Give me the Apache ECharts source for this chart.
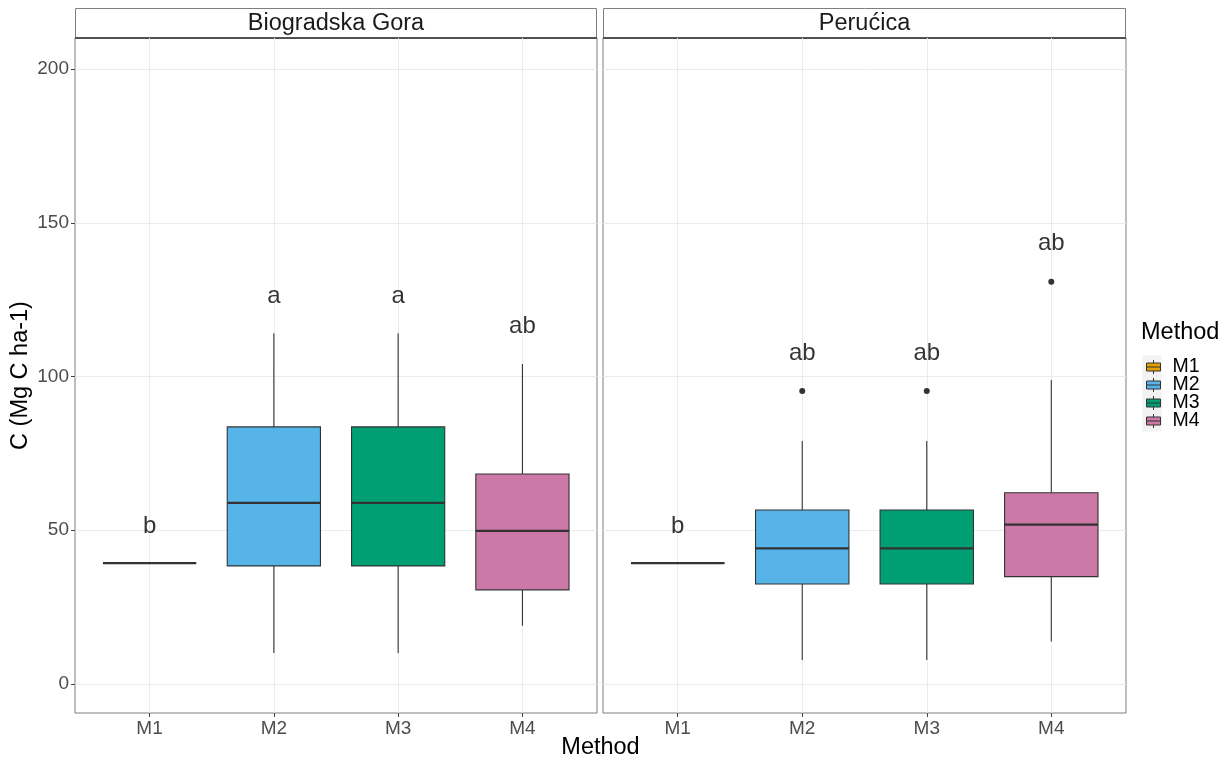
<!DOCTYPE html>
<html><head><meta charset="utf-8">
<script src="https://cdn.jsdelivr.net/npm/echarts@6/dist/echarts.min.js"></script>
<style>html,body{margin:0;padding:0;background:#fff}#c{width:1232px;height:765px}</style>
</head><body><div id="c"></div>
<script>
const methods = ['M1', 'M2', 'M3', 'M4'];
const panels = ['Biogradska Gora', 'Perućica'];
const colors = ['#E69F00', '#56B4E9', '#009E73', '#CC79A7'];
const yTicks = [0, 50, 100, 150, 200];
// [lower whisker, Q1, median, Q3, upper whisker]
const bgStats = [
  [39.3, 39.3, 39.3, 39.3, 39.3],
  [10.1, 38.4, 58.9, 83.6, 114.1],
  [10.1, 38.4, 58.9, 83.6, 114.1],
  [18.9, 30.6, 49.8, 68.3, 104.1]
];
const peStats = [
  [39.3, 39.3, 39.3, 39.3, 39.3],
  [7.8, 32.5, 44.1, 56.6, 79.0],
  [7.8, 32.5, 44.1, 56.6, 79.0],
  [13.8, 34.9, 51.8, 62.2, 98.9]
];
const bgOutliers = [];
const peOutliers = [[2, 95.3], [3, 95.3], [4, 130.8]];
const bgLetters = ['b', 'a', 'a', 'ab'];
const bgLetterY = [51.4, 126.2, 126.2, 116.4];
const peLetters = ['b', 'ab', 'ab', 'ab'];
const peLetterY = [51.4, 107.6, 107.6, 143.4];

const chart = echarts.init(document.getElementById('c'));
const FONT = 'Liberation Sans, Arial, sans-serif';

function renderBox(params, api) {
  const x = api.value(0);
  const lo = api.value(1), q1 = api.value(2), md = api.value(3), q3 = api.value(4), hi = api.value(5);
  const hw = 0.375;
  const tl = api.coord([x - hw, q3]);
  const br = api.coord([x + hw, q1]);
  const mL = api.coord([x - hw, md]);
  const mR = api.coord([x + hw, md]);
  const pHi = api.coord([x, hi]);
  const pQ3 = api.coord([x, q3]);
  const pQ1 = api.coord([x, q1]);
  const pLo = api.coord([x, lo]);
  const children = [
    {type: 'line', shape: {x1: pQ3[0], y1: pQ3[1], x2: pHi[0], y2: pHi[1]}, style: {stroke: '#333', lineWidth: 1.1}},
    {type: 'line', shape: {x1: pQ1[0], y1: pQ1[1], x2: pLo[0], y2: pLo[1]}, style: {stroke: '#333', lineWidth: 1.1}},
    {type: 'rect', shape: {x: tl[0], y: tl[1], width: br[0] - tl[0], height: br[1] - tl[1]},
      style: {fill: api.visual('color'), stroke: '#333', lineWidth: 1.1}},
    {type: 'line', shape: {x1: mL[0], y1: mL[1], x2: mR[0], y2: mR[1]}, style: {stroke: '#333', lineWidth: 2.3}}
  ];
  return {type: 'group', children: children};
}

const grids = [
  {left: 75, top: 38, width: 522, height: 675},
  {left: 603, top: 38, width: 523, height: 675}
].map(g => Object.assign(g, {show: true, borderColor: '#7f7f7f', borderWidth: 1, backgroundColor: 'transparent', containLabel: false}));

const xAxes = [0, 1].map(i => ({
  type: 'value', gridIndex: i, min: 0.4, max: 4.6,
  axisLine: {show: false, onZero: false},
  axisTick: {show: true, length: 4, lineStyle: {color: '#444'}, customValues: [1, 2, 3, 4]},
  axisLabel: {show: true, customValues: [1, 2, 3, 4], formatter: v => methods[Math.round(v) - 1],
    color: '#4d4d4d', fontSize: 19, fontFamily: FONT, margin: 6},
  splitLine: {show: true, lineStyle: {color: '#ebebeb', width: 1}}
}));

const yAxes = [0, 1].map(i => ({
  type: 'value', gridIndex: i, min: -9.45, max: 210.1,
  axisLine: {show: false, onZero: false},
  axisTick: {show: i === 0, length: 4, lineStyle: {color: '#444'}, customValues: yTicks},
  axisLabel: {show: i === 0, customValues: yTicks, color: '#4d4d4d', fontSize: 19, fontFamily: FONT, margin: 6},
  splitLine: {show: true, lineStyle: {color: '#ebebeb', width: 1}},
  name: i === 0 ? 'C (Mg C ha-1)' : '',
  nameLocation: 'middle', nameRotate: 90, nameGap: 42,
  nameTextStyle: {color: '#000', fontSize: 23.5, fontFamily: FONT}
}));

const series = [];
const statsByPanel = [bgStats, peStats];
const outByPanel = [bgOutliers, peOutliers];
const lettersByPanel = [bgLetters, peLetters];
const letterYByPanel = [bgLetterY, peLetterY];
for (let p = 0; p < 2; p++) {
  methods.forEach((m, i) => {
    series.push({
      type: 'custom', name: m, xAxisIndex: p, yAxisIndex: p,
      itemStyle: {color: colors[i], borderColor: '#333', borderWidth: 1},
      renderItem: renderBox,
      encode: {x: 0, y: [1, 2, 3, 4, 5]},
      data: [[i + 1].concat(statsByPanel[p][i])],
      silent: true, z: 2
    });
  });
  series.push({
    type: 'scatter', xAxisIndex: p, yAxisIndex: p, symbol: 'circle', symbolSize: 6,
    itemStyle: {color: '#333', opacity: 1}, data: outByPanel[p], silent: true, z: 3
  });
  series.push({
    type: 'scatter', xAxisIndex: p, yAxisIndex: p, symbolSize: 0,
    data: methods.map((m, i) => [i + 1, letterYByPanel[p][i], lettersByPanel[p][i]]),
    label: {show: true, position: 'inside', formatter: d => d.value[2], color: '#000', fontSize: 24, fontFamily: FONT},
    silent: true, z: 4
  });
}

const boxIcon = 'path://M0,3 L14,3 L14,11 L0,11 Z M0,7 L14,7 M7,0 L7,3 M7,11 L7,14';

const option = {
  animation: false,
  backgroundColor: '#fff',
  grid: grids,
  xAxis: xAxes,
  yAxis: yAxes,
  series: series,
  legend: {
    orient: 'vertical', left: 1146, top: 357, selectedMode: false, padding: 0,
    data: methods, icon: boxIcon, itemWidth: 14, itemHeight: 14, itemGap: -2, itemTextGap: 6,
    itemStyle: {borderColor: '#333', borderWidth: 1},
    textStyle: {color: '#000', fontSize: 19.5, lineHeight: 18, fontFamily: FONT, padding: [0, 0, 0, 7]}
  },
  graphic: [
    {type: 'rect', z: -1, shape: {x: 1142.5, y: 355.5, width: 19, height: 76}, style: {fill: '#f2f2f2'}},
    {type: 'rect', shape: {x: 75.5, y: 8.5, width: 521, height: 29.5}, style: {fill: '#fff', stroke: '#7f7f7f', lineWidth: 1}},
    {type: 'rect', shape: {x: 603.5, y: 8.5, width: 522, height: 29.5}, style: {fill: '#fff', stroke: '#7f7f7f', lineWidth: 1}},
    {type: 'line', shape: {x1: 75, y1: 38, x2: 597, y2: 38}, style: {stroke: '#333', lineWidth: 1.3}},
    {type: 'line', shape: {x1: 603, y1: 38, x2: 1126, y2: 38}, style: {stroke: '#333', lineWidth: 1.3}},
    {type: 'text', x: 336, y: 24, style: {text: panels[0], fill: '#1a1a1a', font: '23.5px ' + FONT, textAlign: 'center', textVerticalAlign: 'middle'}},
    {type: 'text', x: 864.5, y: 24, style: {text: panels[1], fill: '#1a1a1a', font: '23.5px ' + FONT, textAlign: 'center', textVerticalAlign: 'middle'}},
    {type: 'text', x: 600.5, y: 748, style: {text: 'Method', fill: '#000', font: '23.5px ' + FONT, textAlign: 'center', textVerticalAlign: 'middle'}},
    {type: 'text', x: 1141, y: 333, style: {text: 'Method', fill: '#000', font: '23.5px ' + FONT, textAlign: 'left', textVerticalAlign: 'middle'}}
  ]
};
chart.setOption(option);
</script></body></html>
